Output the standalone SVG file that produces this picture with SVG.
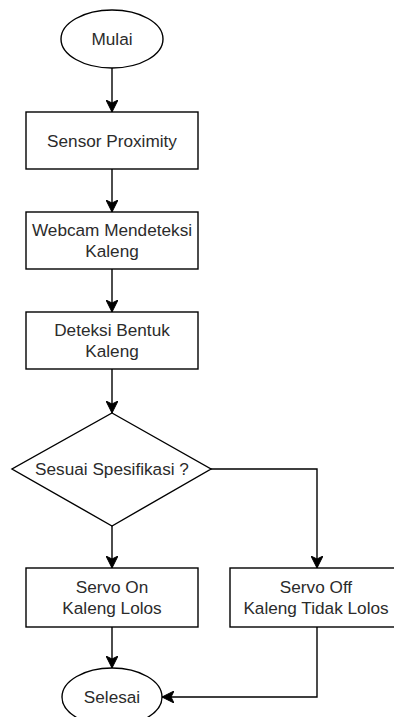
<svg xmlns="http://www.w3.org/2000/svg" width="394" height="717" viewBox="0 0 394 717">
  <style>
    .shape { fill: #ffffff; stroke: #000000; stroke-width: 1.4; }
    .edge { fill: none; stroke: #000000; stroke-width: 1.4; }
    .label { font-family: "Liberation Sans", Arial, sans-serif; font-size: 17.2px; fill: #2b2b2b; text-anchor: middle; dominant-baseline: central; }
  </style>
  <defs>
    <marker id="arrow" markerUnits="userSpaceOnUse" markerWidth="13" markerHeight="12" refX="12" refY="6" orient="auto">
      <path d="M0,0 L12,6 L0,12 L3,6 Z" fill="#000000" stroke="#000000" stroke-width="1"/>
    </marker>
  </defs>
  <rect width="394" height="717" fill="#ffffff"/>

  <g id="connectors">
    <line class="edge" x1="112" y1="68" x2="112" y2="112" marker-end="url(#arrow)"/>
    <line class="edge" x1="112" y1="169" x2="112" y2="212" marker-end="url(#arrow)"/>
    <line class="edge" x1="112" y1="269" x2="112" y2="312" marker-end="url(#arrow)"/>
    <line class="edge" x1="112" y1="369" x2="112" y2="413" marker-end="url(#arrow)"/>
    <line class="edge" x1="112" y1="526" x2="112" y2="568" marker-end="url(#arrow)"/>
    <polyline class="edge" points="211,469 317,469 317,568" marker-end="url(#arrow)"/>
    <line class="edge" x1="112" y1="627" x2="112" y2="668" marker-end="url(#arrow)"/>
    <polyline class="edge" points="317,627 317,697 162,697" marker-end="url(#arrow)"/>
  </g>

  <g id="mulai">
    <ellipse class="shape" cx="112" cy="39" rx="51" ry="29"/>
    <text class="label" x="112" y="39">Mulai</text>
  </g>

  <g id="sensor-proximity">
    <rect class="shape" x="26" y="112" width="172" height="57"/>
    <text class="label" x="112" y="140.5">Sensor Proximity</text>
  </g>

  <g id="webcam">
    <rect class="shape" x="26" y="212" width="172" height="57"/>
    <text class="label" x="112" y="230">Webcam Mendeteksi</text>
    <text class="label" x="112" y="251">Kaleng</text>
  </g>

  <g id="deteksi-bentuk">
    <rect class="shape" x="26" y="312" width="172" height="57"/>
    <text class="label" x="112" y="330">Deteksi Bentuk</text>
    <text class="label" x="112" y="351">Kaleng</text>
  </g>

  <g id="sesuai-spesifikasi">
    <polygon class="shape" points="112,413 211,469 112,526 12,469"/>
    <text class="label" x="112" y="469">Sesuai Spesifikasi ?</text>
  </g>

  <g id="servo-on">
    <rect class="shape" x="26" y="568" width="172" height="59"/>
    <text class="label" x="112" y="587">Servo On</text>
    <text class="label" x="112" y="608">Kaleng Lolos</text>
  </g>

  <g id="servo-off">
    <rect class="shape" x="230" y="568" width="172" height="59"/>
    <text class="label" x="316" y="587">Servo Off</text>
    <text class="label" x="316" y="608">Kaleng Tidak Lolos</text>
  </g>

  <g id="selesai">
    <ellipse class="shape" cx="112" cy="697" rx="50" ry="29"/>
    <text class="label" x="112" y="697">Selesai</text>
  </g>
</svg>
